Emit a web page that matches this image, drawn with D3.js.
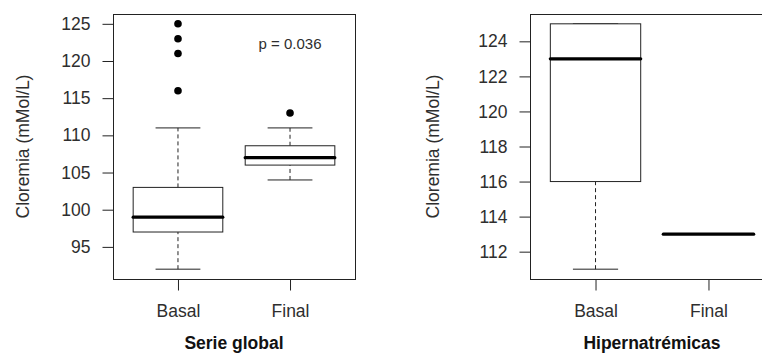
<!DOCTYPE html>
<html>
<head>
<meta charset="utf-8">
<script src="https://cdn.jsdelivr.net/npm/d3@7"></script>
<style>
  body { margin: 0; background: #fff; }
  svg { display: block; font-family: 'Liberation Sans', Arial, sans-serif; }
</style>
</head>
<body>
<svg id="chart"></svg>
<script>
const groups = ['Basal', 'Final'];

// [low whisker, Q1, median, Q3, high whisker]
const globalStats = [[92, 97, 99, 103, 111], [104, 106, 107, 108.6, 111]];
const globalOutliers = [[116, 121, 123, 125], [113]];
const globalTicks = [95, 100, 105, 110, 115, 120, 125];

const hiperStats = [[111, 116, 123, 125, 125], [113, 113, 113, 113, 113]];
const hiperOutliers = [[], []];
const hiperTicks = [112, 114, 116, 118, 120, 122, 124];

const yLabel = 'Cloremia (mMol/L)';

const W = 762, H = 354;
const INK = '#222';
const TXT = '#2e2e2e';

const svg = d3.select('#chart').attr('width', W).attr('height', H);

function boxPanel(opt) {
  const top = 14, bottom = 279;
  const x = d3.scaleLinear().domain([0.42, 2.58]).range([opt.left, opt.right]);
  const lo = d3.min(opt.stats, d => d[0]);
  const hi = d3.max(opt.stats.map((d, i) => d3.max([d[4], ...opt.outliers[i]])));
  const pad = (hi - lo) * 0.04;
  const y = d3.scaleLinear().domain([lo - pad, hi + pad]).range([bottom, top]);

  const g = svg.append('g');

  // frame
  g.append('rect')
    .attr('x', opt.left + 0.5)
    .attr('y', top + 0.5)
    .attr('width', opt.right - opt.left)
    .attr('height', bottom - top)
    .attr('fill', 'none')
    .attr('stroke', INK);

  // y axis
  const yAxis = g.append('g')
    .attr('transform', `translate(${opt.left + 0.5},0)`)
    .call(d3.axisLeft(y).tickValues(opt.ticks).tickSize(11).tickPadding(12).tickSizeOuter(0));
  yAxis.select('.domain').remove();
  yAxis.selectAll('line').attr('stroke', INK);
  yAxis.selectAll('text').attr('fill', TXT).style('font-size', '17.5px');

  // x axis
  const xAxis = g.append('g')
    .attr('transform', `translate(0,${bottom + 0.5})`)
    .call(d3.axisBottom(x).tickValues([1, 2]).tickFormat((d, i) => groups[i])
      .tickSize(11).tickPadding(14));
  xAxis.select('.domain').remove();
  xAxis.selectAll('line').attr('stroke', INK);
  xAxis.selectAll('text').attr('fill', TXT).style('font-size', '17.5px');

  // y label
  g.append('text')
    .attr('transform', `translate(${opt.ylabX},${(top + bottom) / 2}) rotate(-90)`)
    .attr('text-anchor', 'middle')
    .attr('dominant-baseline', 'central')
    .attr('fill', TXT)
    .style('font-size', '17.5px')
    .text(yLabel);

  // title
  g.append('text')
    .attr('x', (opt.left + opt.right) / 2)
    .attr('y', 349)
    .attr('text-anchor', 'middle')
    .attr('fill', '#111')
    .style('font-size', '17.5px')
    .style('font-weight', 'bold')
    .text(opt.title);

  const boxW = x(1.4) - x(1);
  const stapW = x(1.2) - x(1);

  const box = g.selectAll('.box')
    .data(opt.stats)
    .enter()
    .append('g')
    .attr('class', 'box');

  // whiskers
  box.append('line')
    .attr('x1', (d, i) => x(i + 1)).attr('x2', (d, i) => x(i + 1))
    .attr('y1', d => y(d[0])).attr('y2', d => y(d[1]))
    .attr('stroke', INK).attr('stroke-dasharray', '4,3');
  box.append('line')
    .attr('x1', (d, i) => x(i + 1)).attr('x2', (d, i) => x(i + 1))
    .attr('y1', d => y(d[3])).attr('y2', d => y(d[4]))
    .attr('stroke', INK).attr('stroke-dasharray', '4,3');

  // staples
  [0, 4].forEach(k => {
    box.append('line')
      .attr('x1', (d, i) => x(i + 1) - stapW).attr('x2', (d, i) => x(i + 1) + stapW)
      .attr('y1', d => y(d[k])).attr('y2', d => y(d[k]))
      .attr('stroke', INK);
  });

  // box
  box.append('rect')
    .attr('x', (d, i) => x(i + 1) - boxW)
    .attr('y', d => y(d[3]))
    .attr('width', boxW * 2)
    .attr('height', d => y(d[1]) - y(d[3]))
    .attr('fill', '#fff')
    .attr('stroke', INK);

  // median
  box.append('line')
    .attr('x1', (d, i) => x(i + 1) - boxW).attr('x2', (d, i) => x(i + 1) + boxW)
    .attr('y1', d => y(d[2])).attr('y2', d => y(d[2]))
    .attr('stroke', '#000').attr('stroke-width', 3.2).attr('stroke-linecap', 'round');

  // outliers
  opt.outliers.forEach((vals, i) => {
    g.selectAll(null)
      .data(vals)
      .enter()
      .append('circle')
      .attr('cx', x(i + 1))
      .attr('cy', d => y(d))
      .attr('r', 3.8)
      .attr('fill', '#000');
  });

  return { g, x, y };
}

const left = boxPanel({
  left: 113, right: 355, ylabX: 23,
  stats: globalStats, outliers: globalOutliers, ticks: globalTicks,
  title: 'Serie global'
});

left.g.append('text')
  .attr('x', left.x(2))
  .attr('y', left.y(122.3))
  .attr('text-anchor', 'middle')
  .attr('dominant-baseline', 'central')
  .attr('fill', TXT)
  .style('font-size', '15px')
  .text('p = 0.036');

boxPanel({
  left: 530, right: 774, ylabX: 433,
  stats: hiperStats, outliers: hiperOutliers, ticks: hiperTicks,
  title: 'Hipernatrémicas'
});
</script>
</body>
</html>
